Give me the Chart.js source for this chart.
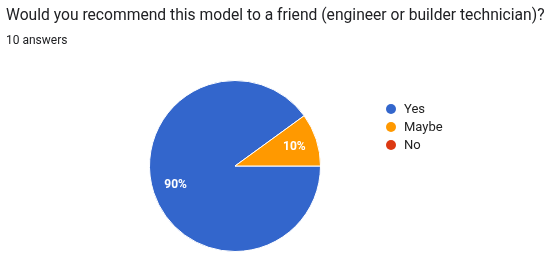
<!DOCTYPE html>
<html>
<head>
<meta charset="utf-8">
<script src="https://cdn.jsdelivr.net/npm/chart.js@4/dist/chart.umd.min.js"></script>
<style>
  html, body { margin: 0; padding: 0; background: #fff; }
  #wrap { position: relative; width: 550px; height: 256px; overflow: hidden; font-family: Roboto, Arial, sans-serif; }
  #titulo { position: absolute; left: 6px; top: 5px; font-size: 15.65px; color: #202124; white-space: nowrap; }
  #respuestas { position: absolute; left: 6px; top: 33px; font-size: 12px; color: #202124; }
  #leyenda { position: absolute; left: 386px; top: 100px; font-size: 13px; color: #222; }
  #leyenda div { height: 18px; line-height: 16px; display: flex; align-items: center; }
  #leyenda span.punto { width: 10px; height: 10px; border-radius: 50%; display: inline-block; margin-right: 8px; }
  canvas { position: absolute; left: 0; top: 0; }
</style>
</head>
<body>
<div id="wrap">
  <canvas id="graficoPie" width="550" height="256"></canvas>
  <div id="titulo">Would you recommend this model to a friend (engineer or builder technician)?</div>
  <div id="respuestas">10 answers</div>
  <div id="leyenda"></div>
</div>
<script>
// datos
const respuestas = ["Yes", "Maybe", "No"];
const votos = [9, 1, 0];
const colores = ["#3366cc", "#ff9900", "#dc3912"];

// leyenda a mano
const leyenda = document.getElementById("leyenda");
respuestas.forEach((r, i) => {
  const fila = document.createElement("div");
  const punto = document.createElement("span");
  punto.className = "punto";
  punto.style.background = colores[i];
  fila.appendChild(punto);
  fila.appendChild(document.createTextNode(r));
  leyenda.appendChild(fila);
});

// porcentajes dentro de las porciones
const etiquetas = {
  id: "etiquetas",
  afterDatasetsDraw(chart) {
    const ctx = chart.ctx;
    const total = votos.reduce((a, b) => a + b, 0);
    chart.getDatasetMeta(0).data.forEach((arc, i) => {
      if (!votos[i]) return;
      const p = arc.getProps(["x", "y", "startAngle", "endAngle", "outerRadius"], true);
      const mid = (p.startAngle + p.endAngle) / 2;
      const r = p.outerRadius * 0.73;
      ctx.save();
      ctx.fillStyle = "#fff";
      ctx.font = "bold 12px Roboto, Arial, sans-serif";
      ctx.textAlign = "center";
      ctx.textBaseline = "middle";
      ctx.fillText(Math.round(votos[i] / total * 100) + "%", p.x + Math.cos(mid) * r, p.y + Math.sin(mid) * r);
      ctx.restore();
    });
  }
};

new Chart(document.getElementById("graficoPie"), {
  type: "pie",
  data: {
    labels: respuestas,
    datasets: [{ data: votos, backgroundColor: colores, borderColor: "#fff", borderWidth: 1 }]
  },
  options: {
    responsive: false,
    animation: false,
    rotation: 90,
    layout: { padding: { left: 149, right: 229, top: 80, bottom: 4 } },
    plugins: { legend: { display: false }, tooltip: { enabled: false } }
  },
  plugins: [etiquetas]
});
</script>
</body>
</html>
